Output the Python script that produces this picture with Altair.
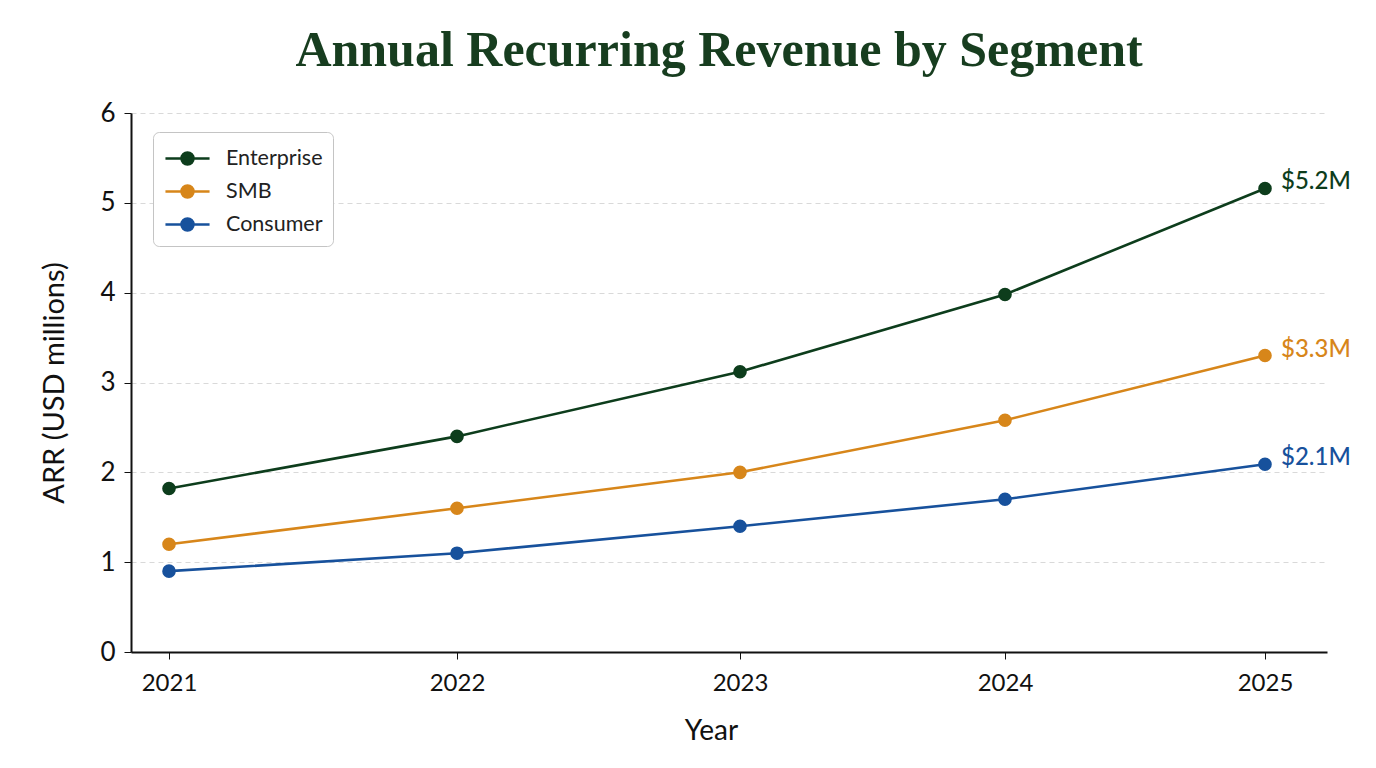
import altair as alt
import pandas as pd

years = [2021, 2022, 2023, 2024, 2025]
segments = ["Enterprise", "SMB", "Consumer"]
enterprise = [1.82, 2.40, 3.12, 3.98, 5.16]
smb = [1.20, 1.60, 2.00, 2.58, 3.30]
consumer = [0.90, 1.10, 1.40, 1.70, 2.09]
end_labels = ["$5.2M", "$3.3M", "$2.1M"]
colors = ["#0d3d1c", "#d7861a", "#17519c"]

rows = []
for seg, vals, lab in zip(segments, [enterprise, smb, consumer], end_labels):
    for i, (y, v) in enumerate(zip(years, vals)):
        rows.append({"year": y, "value": v, "segment": seg,
                     "label": lab if i == len(years) - 1 else ""})
df = pd.DataFrame(rows)

FONT = "Lato"
cscale = alt.Scale(domain=segments, range=colors)

# piecewise x scale reproducing the reference's uneven year spacing
x_domain = [2020.86, 2021, 2022, 2023, 2024, 2025, 2025.23]
x_range = [0, 38, 326, 609, 874, 1134, 1196]

x = alt.X("year:Q", scale=alt.Scale(domain=x_domain, range=x_range, nice=False, zero=False),
          axis=alt.Axis(values=years, format="d", title="Year", grid=False,
                        labelFontSize=24, titleFontSize=28, titleFontWeight="normal",
                        labelPadding=12, titlePadding=22, tickSize=7, titleX=580,
                        domainColor="#111111", tickColor="#111111", domainWidth=2,
                        labelColor="#111111", titleColor="#111111"))
y = alt.Y("value:Q", scale=alt.Scale(domain=[0, 6], nice=False),
          axis=alt.Axis(values=[0, 1, 2, 3, 4, 5, 6], title="ARR (USD millions)",
                        grid=True, gridDash=[5, 4], gridColor="#d9d9d9", gridWidth=1,
                        labelFontSize=26, titleFontSize=29, titleFontWeight="normal",
                        labelPadding=9, titlePadding=30, tickSize=7,
                        domainColor="#111111", tickColor="#111111", domainWidth=2,
                        labelColor="#111111", titleColor="#111111"))

sym = ("M-1.47,0L1.47,0M-0.4,0A0.4,0.4 0 1,0 0.4,0A0.4,0.4 0 1,0 -0.4,0Z")

legend = alt.Legend(title=None, orient="none", legendX=22, legendY=19,
                    symbolType=sym, symbolSize=900, symbolStrokeWidth=2.5,
                    labelFontSize=21.5, labelFont=FONT, labelColor="#222222",
                    rowPadding=5, padding=10, symbolOffset=8, cornerRadius=6,
                    strokeColor="#c4c4c4", fillColor="white", labelOffset=22)

color = alt.Color("segment:N", scale=cscale, legend=legend)

lines = alt.Chart(df).mark_line(strokeWidth=2.6).encode(x=x, y=y, color=color)

points = alt.Chart(df).mark_point(filled=True, size=185, opacity=1, strokeWidth=0).encode(
    x=x, y=y, color=color)

texts = alt.Chart(df).transform_filter(alt.datum.label != "").mark_text(
    align="left", baseline="middle", dx=16, dy=-6, fontSize=24, fontWeight=500, font=FONT
).encode(x=x, y=y, text="label:N", color=color)

chart = alt.layer(lines, points, texts).properties(
    width=1196, height=539,
    autosize=alt.AutoSizeParams(type="none"),
    padding={"left": 123, "top": 105, "right": 41, "bottom": 108},
    title=alt.TitleParams("Annual Recurring Revenue by Segment", font="Liberation Serif",
                          fontSize=50, fontWeight="bold", color="#173d1f",
                          anchor="middle", offset=24, dx=-10),
).configure_view(stroke=None).configure_axis(labelFont=FONT, titleFont=FONT)

chart.save("out.html", embed_options={"renderer": "svg", "actions": False})
